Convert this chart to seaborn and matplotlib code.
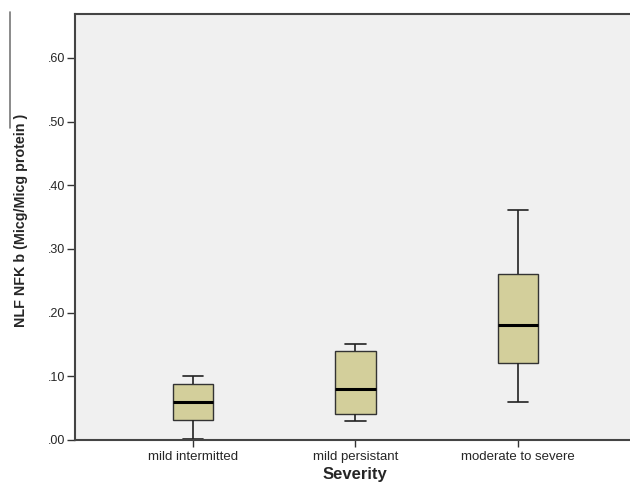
import numpy as np
import pandas as pd
import matplotlib
matplotlib.use("Agg")
import matplotlib.pyplot as plt
import seaborn as sns
from matplotlib.lines import Line2D

categories = ["mild intermitted", "mild persistant", "moderate to severe"]
# five-number summaries: min, Q1, median, Q3, max
mild_intermitted = [0.002, 0.031, 0.060, 0.088, 0.100]
mild_persistant = [0.030, 0.041, 0.080, 0.140, 0.151]
moderate_to_severe = [0.060, 0.121, 0.180, 0.260, 0.361]
yticks = [0.0, 0.1, 0.2, 0.3, 0.4, 0.5, 0.6]
ytick_labels = [".00", ".10", ".20", ".30", ".40", ".50", ".60"]

df = pd.DataFrame({
    "Severity": [categories[0]] * 5 + [categories[1]] * 5 + [categories[2]] * 5,
    "value": mild_intermitted + mild_persistant + moderate_to_severe,
})

sns.set_style("white")
plt.rcParams["font.family"] = ["Liberation Sans", "DejaVu Sans"]

fig = plt.figure(figsize=(6.3, 4.84), dpi=100)
ax = fig.add_axes([75 / 630, 44 / 484, 555 / 630, 426 / 484])
ax.set_facecolor("#f0f0f0")

sns.boxplot(
    data=df, x="Severity", y="value", order=categories, ax=ax,
    width=0.25, whis=(0, 100), color="#d3cf9b", saturation=1,
    linewidth=1.0, linecolor="#333333",
    boxprops=dict(edgecolor="#333333", linewidth=1.0),
    medianprops=dict(color="black", linewidth=2.2),
    whiskerprops=dict(color="#222222", linewidth=1.2),
    capprops=dict(color="#222222", linewidth=1.2),
    showfliers=False,
)

ax.set_xlim(-0.726, 2.69)
ax.set_ylim(0, 0.669)
ax.set_yticks(yticks)
ax.set_yticklabels(ytick_labels, fontsize=9)
ax.tick_params(axis="x", labelsize=9.5, length=5, width=1, color="#333333", direction="out", bottom=True, pad=3)
ax.tick_params(axis="y", length=6, width=1, color="#333333", direction="out", left=True, pad=1)

for s in ["left", "top", "bottom"]:
    ax.spines[s].set_visible(True)
    ax.spines[s].set_color("#444444")
    ax.spines[s].set_linewidth(1.5)
ax.spines["right"].set_visible(False)

ax.set_ylabel("NLF NFK b (Micg/Micg protein )", fontsize=10.3, fontweight="bold")
ax.yaxis.set_label_coords(-(75 - 28) / 555, 0.516)
ax.set_xlabel("Severity", fontsize=12, fontweight="bold")
ax.xaxis.set_label_coords((355 - 75) / 555, -(467 - 440) / 426)
ax.xaxis.label.set_va("top")

fig.add_artist(Line2D([9.5 / 630, 9.5 / 630], [1 - 12 / 484, 1 - 128 / 484],
                      transform=fig.transFigure, color="#777777", linewidth=1.2))

fig.savefig("out.png", dpi=100)
